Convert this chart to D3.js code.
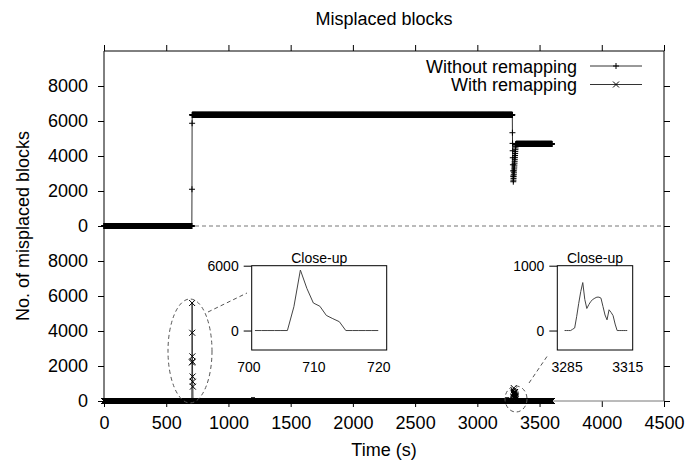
<!DOCTYPE html>
<html>
<head>
<meta charset="utf-8">
<script src="https://cdn.jsdelivr.net/npm/d3@7"></script>
<style>
body { margin: 0; background: #fff; }
text { font-family: "Liberation Sans", Arial, sans-serif; fill: #000; }
</style>
</head>
<body>
<div id="chart"></div>
<script>
// constant stretches [from, to, value], logged once per second
var withoutRuns = [[0, 706, 0], [709, 3281, 6350], [3311, 3600, 4690]]
var withoutTimes = [707, 708, 3282, 3283, 3284, 3285, 3286, 3287, 3288, 3289, 3290, 3291, 3292, 3293, 3294, 3295, 3296, 3297, 3298, 3299, 3300, 3301, 3302, 3303, 3304, 3305, 3306, 3307, 3308, 3309, 3310]
var withoutValues = [2100, 5870, 5330, 4720, 4300, 3900, 3500, 3150, 2850, 2530, 2620, 2720, 2820, 2930, 3040, 3150, 3260, 3370, 3480, 3590, 3700, 3810, 3920, 4030, 4140, 4250, 4360, 4460, 4550, 4620, 4670]

var withRuns = [[0, 706, 0], [715, 3287, 0], [3310, 3600, 0]]
var withTimes = [707, 708, 709, 710, 711, 712, 713, 714, 3288, 3289, 3290, 3291, 3292, 3293, 3294, 3295, 3296, 3297, 3298, 3299, 3300, 3301, 3302, 3303, 3304, 3305, 3306, 3307, 3308, 3309]
var withValues = [2200, 5600, 3900, 2550, 2250, 1400, 1100, 820, 20, 40, 220, 420, 600, 740, 480, 340, 400, 450, 480, 500, 515, 515, 500, 370, 240, 165, 320, 280, 230, 100]

var xTicks = [0, 500, 1000, 1500, 2000, 2500, 3000, 3500, 4000, 4500]
var yTicks = [0, 2000, 4000, 6000, 8000]
var close1XTicks = [700, 710, 720]
var close1YTicks = [0, 6000]
var close2XTicks = [3285, 3315]
var close2YTicks = [0, 1000]

function build(runs, times, values){
    var pts = []
    for (var r of runs){
        for (var t = r[0]; t <= r[1]; t++){
            pts.push([t, r[2]])
        }
    }
    times.forEach(function(t, i){ pts.push([t, values[i]]) })
    pts.sort(function(a, b){ return a[0] - b[0] })
    return pts
}
var withoutData = build(withoutRuns, withoutTimes, withoutValues)
var withData = build(withRuns, withTimes, withValues)

var W = 687, H = 466
var box = {left: 104, right: 664, top: 51, bottom: 401}
var font = '"Liberation Sans", Arial, sans-serif'
var svg = d3.select("#chart").append("svg").attr("width", W).attr("height", H)

var x = d3.scaleLinear().domain([0, 4500]).range([box.left, box.right])
// two stacked panels on one axis: lower 0..10000, upper shifted by 10000
var y = d3.scaleLinear().domain([0, 20000]).range([box.bottom, box.top])
var offset = 10000
var allYTicks = yTicks.concat(yTicks.map(function(d){ return d + offset }))

function plus(px, py, s){
    return "M" + (px - s) + "," + py + "H" + (px + s) + "M" + px + "," + (py - s) + "V" + (py + s)
}
function cross(px, py, s){
    return "M" + (px - s) + "," + (py - s) + "L" + (px + s) + "," + (py + s) +
           "M" + (px - s) + "," + (py + s) + "L" + (px + s) + "," + (py - s)
}
function noDomain(g){ g.select(".domain").remove() }

// axes, ticks out
svg.append("g").attr("transform", "translate(0," + box.bottom + ")")
    .call(d3.axisBottom(x).tickValues(xTicks).tickSize(6).tickPadding(9).tickSizeOuter(0).tickFormat(d3.format("d")))
    .call(noDomain)
svg.append("g").attr("transform", "translate(0," + box.top + ")")
    .call(d3.axisTop(x).tickValues(xTicks).tickSize(6).tickFormat("").tickSizeOuter(0))
    .call(noDomain)
svg.append("g").attr("transform", "translate(" + box.left + ",0)")
    .call(d3.axisLeft(y).tickValues(allYTicks).tickSize(6).tickPadding(10).tickSizeOuter(0)
        .tickFormat(function(d){ return d % offset }))
    .call(noDomain)
svg.append("g").attr("transform", "translate(" + box.right + ",0)")
    .call(d3.axisRight(y).tickValues(allYTicks).tickSize(6).tickFormat("").tickSizeOuter(0))
    .call(noDomain)
svg.selectAll(".tick text").style("font-size", "18px").style("font-family", font).attr("fill", "#000")
svg.selectAll(".tick line").attr("stroke", "#000")

// frame
svg.append("path").attr("d", "M" + box.left + "," + box.bottom + "V" + box.top + "H" + box.right + "V" + box.bottom)
    .attr("fill", "none").attr("stroke", "#000")
svg.append("line").attr("x1", box.left).attr("x2", box.right).attr("y1", box.bottom).attr("y2", box.bottom)
    .attr("stroke", "#777")

// panel separator
svg.append("line").attr("x1", box.left).attr("x2", box.right).attr("y1", y(offset)).attr("y2", y(offset))
    .attr("stroke", "#777").attr("stroke-dasharray", "4,3")

var lineUp = d3.line().x(function(d){ return x(d[0]) }).y(function(d){ return y(d[1] + offset) })
var lineLow = d3.line().x(function(d){ return x(d[0]) }).y(function(d){ return y(d[1]) })

svg.append("path").attr("d", lineUp(withoutData)).attr("fill", "none").attr("stroke", "#333")
svg.append("path").attr("d", lineLow(withData)).attr("fill", "none").attr("stroke", "#333")
svg.append("path").attr("d", withoutData.map(function(d){ return plus(x(d[0]), y(d[1] + offset), 3) }).join(""))
    .attr("fill", "none").attr("stroke", "#000")
svg.append("path").attr("d", withData.map(function(d){ return cross(x(d[0]), y(d[1]), 3) }).join(""))
    .attr("fill", "none").attr("stroke", "#000")

// legend
var legend = [{label: "Without remapping", mark: plus, ly: 66}, {label: "With remapping", mark: cross, ly: 84.5}]
legend.forEach(function(l){
    svg.append("text").attr("x", 577).attr("y", l.ly + 6.5).attr("text-anchor", "end")
        .style("font-size", "18px").text(l.label)
    svg.append("line").attr("x1", 590).attr("x2", 642).attr("y1", l.ly).attr("y2", l.ly).attr("stroke", "#333")
    svg.append("path").attr("d", l.mark(616, l.ly, 3)).attr("fill", "none").attr("stroke", "#000")
})

// zoom markers
svg.append("ellipse").attr("cx", 190).attr("cy", 351).attr("rx", 22).attr("ry", 52)
    .attr("fill", "none").attr("stroke", "#555").attr("stroke-dasharray", "4,3")
svg.append("line").attr("x1", 208).attr("y1", 312).attr("x2", 247).attr("y2", 293)
    .attr("stroke", "#555").attr("stroke-dasharray", "4,3")
svg.append("ellipse").attr("cx", 516).attr("cy", 399).attr("rx", 11).attr("ry", 13)
    .attr("fill", "none").attr("stroke", "#555").attr("stroke-dasharray", "4,3")
svg.append("line").attr("x1", 529).attr("y1", 383).attr("x2", 548).attr("y2", 355)
    .attr("stroke", "#555").attr("stroke-dasharray", "4,3")

function closeUp(b, xDomain, yDomain, xt, yt, from, to){
    var cx = d3.scaleLinear().domain(xDomain).range([b.x0, b.x1])
    var cy = d3.scaleLinear().domain(yDomain).range([b.y1, b.y0])
    var g = svg.append("g")
    g.append("rect").attr("x", b.x0).attr("y", b.y0).attr("width", b.x1 - b.x0).attr("height", b.y1 - b.y0)
        .attr("fill", "#fff").attr("stroke", "#000")
    var pts = withData.filter(function(d){ return d[0] >= from && d[0] <= to })
    g.append("path").attr("d", d3.line().x(function(d){ return cx(d[0]) }).y(function(d){ return cy(d[1]) })(pts))
        .attr("fill", "none").attr("stroke", "#444")
    g.append("g").attr("transform", "translate(0," + b.y1 + ")")
        .call(d3.axisBottom(cx).tickValues(xt).tickSize(0).tickPadding(12).tickSizeOuter(0).tickFormat(d3.format("d")))
        .call(noDomain)
    g.append("g").attr("transform", "translate(" + b.x0 + ",0)")
        .call(d3.axisLeft(cy).tickValues(yt).tickSize(8).tickPadding(5).tickSizeOuter(0).tickFormat(d3.format("d")))
        .call(noDomain)
    g.selectAll(".tick text").style("font-size", "14px").style("font-family", font).attr("fill", "#000")
    g.selectAll(".tick line").attr("stroke", "#000")
    g.append("text").attr("x", (b.x0 + b.x1) / 2).attr("y", b.y0 - 3).attr("text-anchor", "middle")
        .style("font-size", "14px").text("Close-up")
}
closeUp({x0: 251.7, x1: 386.7, y0: 265.7, y1: 350}, [700.5, 721.3], [-1800, 6000], close1XTicks, close1YTicks, 701, 720)
closeUp({x0: 557.3, x1: 632.7, y0: 265.7, y1: 350}, [3280.4, 3317.7], [-300, 1000], close2XTicks, close2YTicks, 3284, 3315)

// titles
svg.append("text").attr("x", (box.left + box.right) / 2).attr("y", 25).attr("text-anchor", "middle")
    .style("font-size", "18px").text("Misplaced blocks")
svg.append("text").attr("x", (box.left + box.right) / 2).attr("y", 456).attr("text-anchor", "middle")
    .style("font-size", "18px").text("Time (s)")
svg.append("text").attr("transform", "translate(29," + y(offset) + ") rotate(-90)").attr("text-anchor", "middle")
    .style("font-size", "18px").text("No. of misplaced blocks")
</script>
</body>
</html>
